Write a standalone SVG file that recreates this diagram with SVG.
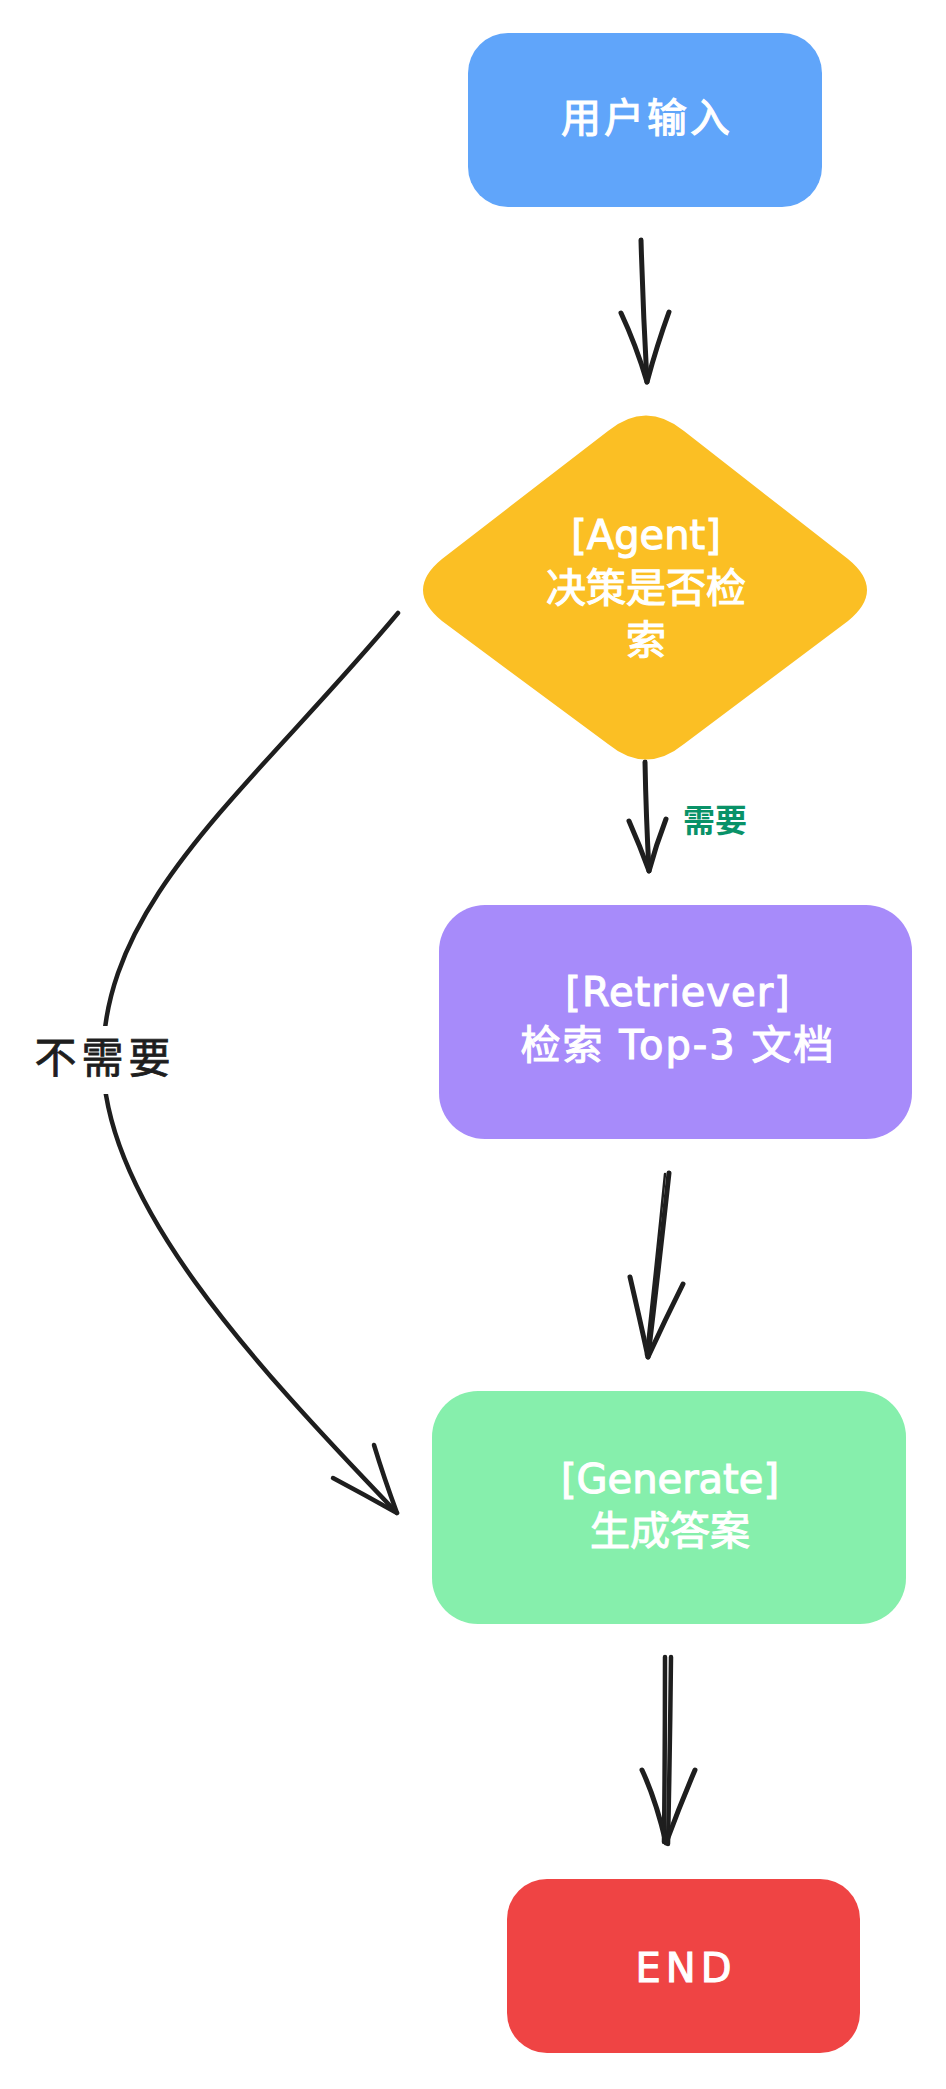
<svg xmlns="http://www.w3.org/2000/svg" width="946" height="2089" viewBox="0 0 946 2089">
<style>
.lbl{font-family:"DejaVu Sans","Noto Sans CJK SC",sans-serif;fill:#ffffff;stroke:#ffffff;stroke-width:1.1;font-size:40px;text-anchor:middle}
.edge{fill:none;stroke:#1e1e1e;stroke-linecap:round;stroke-linejoin:round}
.elbl{font-family:"DejaVu Sans","Noto Sans CJK SC",sans-serif;text-anchor:middle}
</style>
<rect width="946" height="2089" fill="#ffffff"/>
<g id="connectors">
  <g id="e1">
    <path class="edge" stroke-width="5" d="M641,240 Q643,310 647,382"/>
    <path class="edge" stroke-width="5" d="M621,313 Q636,345 647,382 Q657,345 669,312"/>
  </g>
  <g id="e2">
    <path class="edge" stroke-width="5" d="M645,762 Q646,815 649,871"/>
    <path class="edge" stroke-width="5" d="M629,821 Q640,846 649,871 Q656,845 666,819"/>
    <text class="elbl" x="715" y="832" font-size="32" font-weight="bold" fill="#099268">需要</text>
  </g>
  <g id="e3">
    <path class="edge" stroke-width="5" d="M669,1173 Q659,1265 648,1357"/>
    <path class="edge" stroke-width="2.5" d="M665,1174 Q656,1265 646,1355"/>
    <path class="edge" stroke-width="5" d="M630,1277 Q640,1320 648,1357 Q665,1320 683,1284"/>
  </g>
  <g id="e4">
    <path class="edge" stroke-width="4.5" d="M665,1657 Q665,1750 664,1842"/>
    <path class="edge" stroke-width="4.5" d="M671,1657 Q670,1750 668,1844"/>
    <path class="edge" stroke-width="5" d="M642,1770 Q656,1800 666,1843 Q680,1805 695,1770"/>
  </g>
  <g id="e5">
    <path class="edge" stroke-width="4.5" d="M398,613 C250,790 103,900 103,1060 C103,1200 250,1360 397,1513"/>
    <path class="edge" stroke-width="4.5" d="M374,1445 Q384,1478 397,1513 Q365,1495 333,1478"/>
    <rect x="26" y="1026" width="154" height="68" fill="#ffffff"/>
    <text x="105" y="1073" font-size="42" letter-spacing="5" fill="#1e1e1e" stroke="#1e1e1e" stroke-width="0.8" font-family="Noto Sans CJK SC, sans-serif" text-anchor="middle">不需要</text>
  </g>
</g>
<g id="n-input">
  <rect x="468" y="33" width="354" height="174" rx="40" fill="#60a5fa"/>
  <text class="lbl" x="647" y="132" font-size="44" letter-spacing="3">用户输入</text>
</g>
<g id="n-agent">
  <path d="M608,431 Q646,400 684,431 L848,559 Q886,590 848,621 L684,744 Q646,775 608,744 L442,621 Q404,590 442,559 Z" fill="#fbbf24"/>
  <text class="lbl" x="646" y="549">[Agent]</text>
  <text class="lbl" x="646" y="602">决策是否检</text>
  <text class="lbl" x="646" y="654">索</text>
</g>
<g id="n-retriever">
  <rect x="439" y="905" width="473" height="234" rx="46" fill="#a78bfa"/>
  <text class="lbl" x="678" y="1006" letter-spacing="1">[Retriever]</text>
  <text class="lbl" x="678" y="1059" letter-spacing="2">检索 Top-3 文档</text>
</g>
<g id="n-generate">
  <rect x="432" y="1391" width="474" height="233" rx="46" fill="#86efac"/>
  <text class="lbl" x="670" y="1493">[Generate]</text>
  <text class="lbl" x="670" y="1545">生成答案</text>
</g>
<g id="n-end">
  <rect x="507" y="1879" width="353" height="174" rx="40" fill="#ef4444"/>
  <text class="lbl" x="686" y="1982" letter-spacing="5">END</text>
</g>
</svg>
